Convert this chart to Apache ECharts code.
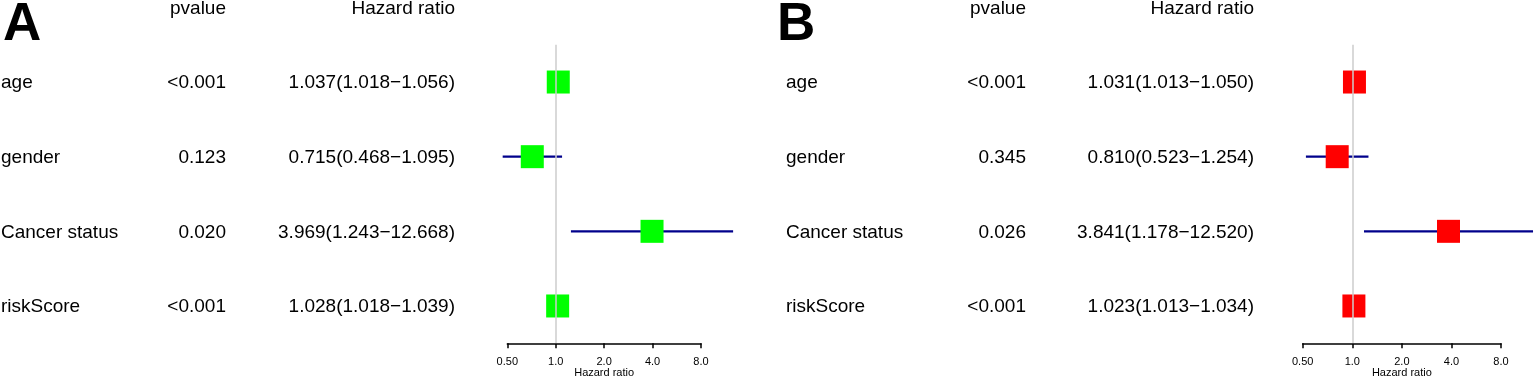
<!DOCTYPE html>
<html>
<head>
<meta charset="utf-8">
<title>forest</title>
<script src="https://cdn.jsdelivr.net/npm/echarts@6/dist/echarts.min.js"></script>
<style>
    html, body { margin: 0; padding: 0; background: #fff; }
    #forest { width: 1535px; height: 378px; }
</style>
</head>
<body>
<div id="forest"></div>
<script>
// 变量名
var rows = ['age', 'gender', 'Cancer status', 'riskScore'];

// A 图
var pvalA = ['<0.001', '0.123', '0.020', '<0.001'];
var hrA = [1.037, 0.715, 3.969, 1.028];
var lowA = [1.018, 0.468, 1.243, 1.018];
var highA = [1.056, 1.095, 12.668, 1.039];

// B 图
var pvalB = ['<0.001', '0.345', '0.026', '<0.001'];
var hrB = [1.031, 0.810, 3.841, 1.023];
var lowB = [1.013, 0.523, 1.178, 1.013];
var highB = [1.050, 1.254, 12.520, 1.034];

var FONT = '"Liberation Sans", Arial, Helvetica, sans-serif';
var myChart = echarts.init(document.getElementById('forest'));

function hrText(h, l, u) {
    return h.toFixed(3) + '(' + l.toFixed(3) + '\u2212' + u.toFixed(3) + ')';
}

function txt(x, y, s, align, size, bold) {
    return {
        type: 'text',
        x: x,
        y: y,
        silent: true,
        style: {
            text: s,
            fill: '#000',
            font: (bold ? 'bold ' : '') + size + 'px ' + FONT,
            align: align,
            textAlign: align,
            verticalAlign: 'middle',
            textVerticalAlign: 'middle'
        }
    };
}

// 一个面板：cols 为三列文字的位置
function panel(idx, pvals, hr, low, high, color, cols) {
    var series = [];
    // 参考线 HR = 1
    series.push({
        type: 'scatter',
        xAxisIndex: idx, yAxisIndex: idx,
        data: [],
        z: 1,
        markLine: {
            silent: true,
            symbol: 'none',
            label: { show: false },
            lineStyle: { color: '#cccccc', width: 1.5, type: 'solid' },
            data: [{ xAxis: 1 }]
        }
    });
    // 置信区间
    series.push({
        type: 'custom',
        xAxisIndex: idx, yAxisIndex: idx,
        clip: false,
        z: 2,
        encode: { x: [0, 1], y: 2 },
        data: low.map(function (v, i) { return [v, high[i], i]; }),
        renderItem: function (params, api) {
            var a = api.coord([api.value(0), api.value(2)]);
            var b = api.coord([api.value(1), api.value(2)]);
            return {
                type: 'line',
                shape: { x1: a[0], y1: a[1], x2: b[0], y2: b[1] },
                style: { stroke: '#00008B', lineWidth: 2.2 }
            };
        }
    });
    // 方块
    series.push({
        type: 'scatter',
        xAxisIndex: idx, yAxisIndex: idx,
        z: 3,
        symbol: 'rect',
        symbolSize: 23,
        itemStyle: { color: color, opacity: 1 },
        data: hr.map(function (v, i) { return [v, i]; })
    });
    // 表格文字
    series.push({
        type: 'custom',
        xAxisIndex: idx, yAxisIndex: idx,
        clip: false,
        silent: true,
        z: 4,
        encode: { x: 0, y: 1 },
        data: rows.map(function (r, i) { return [1, i]; }),
        renderItem: function (params, api) {
            var i = params.dataIndex;
            var y = api.coord([1, i])[1] + 1;
            return {
                type: 'group',
                children: [
                    txt(cols[0], y, rows[i], 'left', 19),
                    txt(cols[1], y, pvals[i], 'right', 19),
                    txt(cols[2], y, hrText(hr[i], low[i], high[i]), 'right', 19)
                ]
            };
        }
    });
    return series;
}

function xAxisOf(idx) {
    return {
        type: 'log',
        logBase: 2,
        gridIndex: idx,
        min: 0.5,
        max: 8,
        name: 'Hazard ratio',
        nameLocation: 'middle',
        nameGap: 24,
        nameMoveOverlap: false,
        nameTextStyle: { color: '#000', fontSize: 11, fontFamily: FONT },
        axisLine: { show: true, onZero: false, lineStyle: { color: '#000', width: 1.5 } },
        axisTick: { show: true, length: 5, lineStyle: { color: '#000', width: 1.5 } },
        axisLabel: {
            color: '#000', fontSize: 11, fontFamily: FONT, margin: 13,
            formatter: function (v) { return Number(v).toPrecision(2); }
        },
        splitLine: { show: false }
    };
}

function yAxisOf(idx) {
    return {
        type: 'category',
        gridIndex: idx,
        inverse: true,
        data: rows,
        show: false
    };
}

var option = {
    animation: false,
    backgroundColor: '#fff',
    grid: [
        { left: 507.3, right: 834, top: 44.7, bottom: 34.7, outerBoundsMode: 'none', containLabel: false },
        { left: 1302.7, right: 34, top: 44.7, bottom: 34.7, outerBoundsMode: 'none', containLabel: false }
    ],
    xAxis: [xAxisOf(0), xAxisOf(1)],
    yAxis: [yAxisOf(0), yAxisOf(1)],
    series: panel(0, pvalA, hrA, lowA, highA, '#00ff00', [1, 226, 455])
        .concat(panel(1, pvalB, hrB, lowB, highB, '#ff0000', [786, 1026, 1254])),
    graphic: [
        txt(3, 25.5, 'A', 'left', 53, true),
        txt(777, 25.5, 'B', 'left', 53, true),
        txt(226, 9, 'pvalue', 'right', 19),
        txt(455, 9, 'Hazard ratio', 'right', 19),
        txt(1026, 9, 'pvalue', 'right', 19),
        txt(1254, 9, 'Hazard ratio', 'right', 19)
    ]
};
myChart.setOption(option);
window.addEventListener('resize', function () {
    myChart.resize();
});
</script>
</body>
</html>
